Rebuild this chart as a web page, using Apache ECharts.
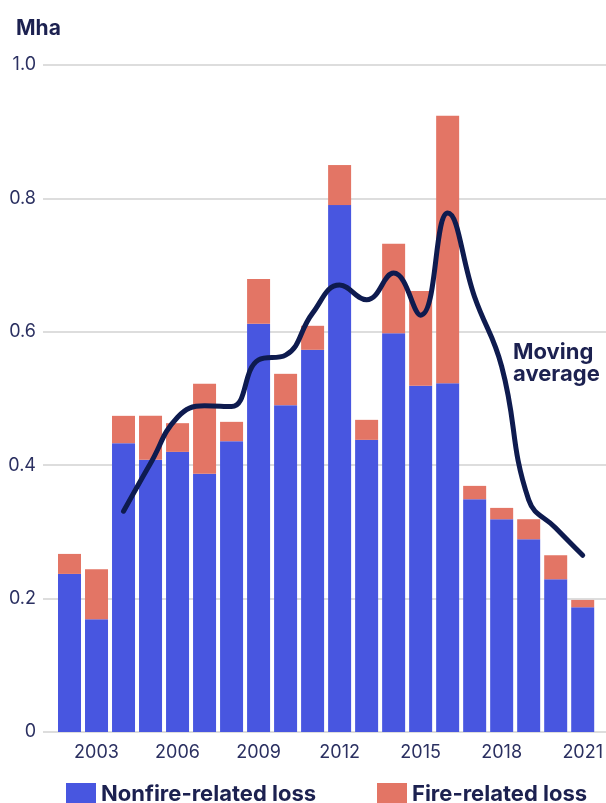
<!DOCTYPE html>
<html>
<head>
<meta charset="utf-8">
<script src="https://cdn.jsdelivr.net/npm/echarts@6/dist/echarts.min.js"></script>
<style>
  html, body { margin: 0; padding: 0; background: #ffffff; }
  #chart { width: 606px; height: 803px; }
</style>
</head>
<body>
<div id="chart"></div>
<script>
// Annual tree cover loss (Mha), split by driver, with a moving average
const years = [2002, 2003, 2004, 2005, 2006, 2007, 2008, 2009, 2010, 2011,
               2012, 2013, 2014, 2015, 2016, 2017, 2018, 2019, 2020, 2021];
const nonfireLoss = [0.237, 0.169, 0.433, 0.408, 0.420, 0.387, 0.436, 0.612, 0.490, 0.573,
                     0.790, 0.438, 0.598, 0.519, 0.523, 0.349, 0.319, 0.289, 0.229, 0.187];
const fireLoss    = [0.030, 0.075, 0.041, 0.066, 0.043, 0.135, 0.029, 0.067, 0.047, 0.036,
                     0.060, 0.030, 0.134, 0.142, 0.401, 0.020, 0.017, 0.030, 0.036, 0.011];
// moving average has no value for the first two years
const movingAvg = [null, null, 0.331, 0.403, 0.472, 0.489, 0.488, 0.558, 0.565, 0.628,
                   0.670, 0.648, 0.688, 0.625, 0.778, 0.652, 0.548, 0.348, 0.306, 0.265];
const yearTicks = [2003, 2006, 2009, 2012, 2015, 2018, 2021];
const yTicks = [0, 0.2, 0.4, 0.6, 0.8, 1.0];

const BLUE = '#4856E0';
const SALMON = '#E37565';
const NAVY = '#0E1B4F';
const TEXT = '#2B3061';
const DARK = '#1C2150';
const FONT = 'Inter, "Noto Sans", sans-serif';

const legendText = {
  formatter: '{t|{name}}',
  textStyle: {
    rich: {
      t: { fontFamily: FONT, fontSize: 22, fontWeight: 'bold', color: DARK, padding: [0, 0, 7, 0] }
    }
  }
};

const chart = echarts.init(document.getElementById('chart'), null, { renderer: 'canvas' });
chart.setOption({
  animation: false,
  textStyle: { fontFamily: FONT },
  title: {
    text: 'Mha',
    left: 11, top: 13,
    textStyle: { fontFamily: FONT, fontSize: 21, fontWeight: 'bold', color: DARK }
  },
  // grid 0 carries the full-width gridlines and value labels,
  // grid 1 carries the bars and the line on a category axis
  grid: [
    { left: 43, right: 0, top: 65, bottom: 71 },
    { left: 56, right: 9, top: 65, bottom: 71 }
  ],
  xAxis: [
    { type: 'value', gridIndex: 0, show: false, min: 0, max: 1 },
    {
      type: 'category', gridIndex: 1,
      data: years,
      axisLine: { show: false },
      axisTick: { show: false },
      axisLabel: {
        interval: (idx, val) => yearTicks.indexOf(Number(val)) >= 0,
        fontFamily: FONT, fontSize: 18, color: TEXT, margin: 12
      }
    }
  ],
  yAxis: [
    {
      type: 'value', gridIndex: 0,
      min: 0, max: 1, interval: 0.2,
      axisLine: { show: false },
      axisTick: { show: false },
      splitLine: { lineStyle: { color: '#DDDDDD', width: 2 } },
      axisLabel: {
        customValues: yTicks,
        formatter: v => (v === 0 ? '0' : v.toFixed(1)),
        fontFamily: FONT, fontSize: 18, color: TEXT, margin: 7
      }
    },
    {
      type: 'value', gridIndex: 1,
      min: 0, max: 1, interval: 0.2,
      show: false,
      splitLine: { show: false }
    }
  ],
  legend: [
    Object.assign({
      left: 61, top: 778,
      itemWidth: 30, itemHeight: 30, itemGap: 9,
      icon: 'rect',
      data: ['Nonfire-related loss']
    }, legendText),
    Object.assign({
      left: 372, top: 778,
      itemWidth: 30, itemHeight: 30,
      icon: 'rect',
      data: ['Fire-related loss']
    }, legendText)
  ],
  graphic: [{
    type: 'text',
    left: 513, top: 341,
    style: {
      text: 'Moving\naverage',
      fontFamily: FONT, fontSize: 22, fontWeight: 'bold',
      lineHeight: 22, fill: DARK
    }
  }],
  series: [
    {
      name: 'Nonfire-related loss',
      type: 'bar', stack: 'loss',
      xAxisIndex: 1, yAxisIndex: 1,
      barWidth: 23,
      itemStyle: { color: BLUE },
      data: nonfireLoss
    },
    {
      name: 'Fire-related loss',
      type: 'bar', stack: 'loss',
      xAxisIndex: 1, yAxisIndex: 1,
      barWidth: 23,
      itemStyle: { color: SALMON },
      data: fireLoss
    },
    {
      name: 'Moving average',
      type: 'line',
      xAxisIndex: 1, yAxisIndex: 1,
      smooth: 0.45,
      symbol: 'none',
      lineStyle: { color: NAVY, width: 5, cap: 'round', join: 'round' },
      data: movingAvg,
      z: 5
    }
  ]
});
</script>
</body>
</html>
